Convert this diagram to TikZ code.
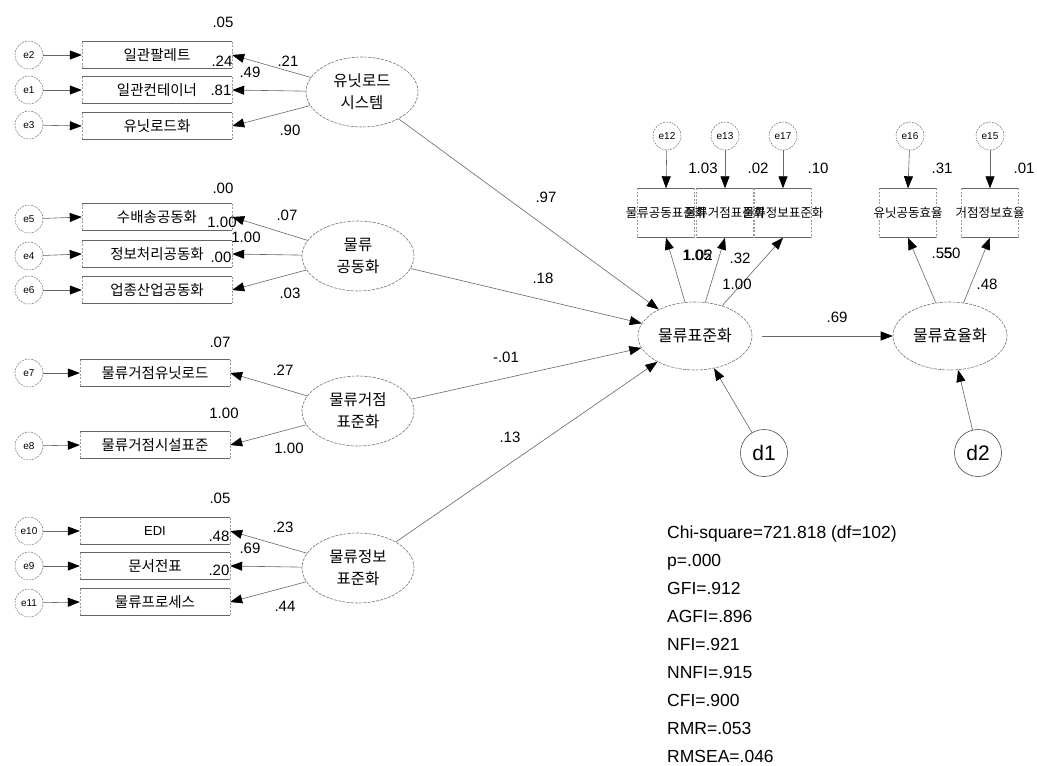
\documentclass[tikz,border=0pt]{standalone}
\usepackage{fontspec}
\setmainfont{Liberation Sans}
\newfontfamily\kr{Noto Sans CJK KR}
\usetikzlibrary{shapes.geometric,arrows.meta}
\begin{document}
\begin{tikzpicture}[x=1pt,y=-1pt,
  line/.style={draw=black!60, line width=0.6pt},
  arr/.style={line, -{Triangle[length=12pt,width=9pt,color=black]}},
  lat/.style={ellipse, draw=black!55, line width=0.6pt, dash pattern=on 3pt off 1.2pt, minimum width=112pt, minimum height=70pt, inner sep=0pt, align=center, font=\kr\fontsize{15.5}{22}\selectfont},
  err/.style={circle, draw=black!55, line width=0.5pt, dash pattern=on 2pt off 1pt, minimum size=28pt, inner sep=0pt, font=\fontsize{10}{10}\selectfont},
  dist/.style={circle, draw=black!70, line width=0.6pt, minimum size=47pt, inner sep=0pt, font=\fontsize{21}{21}\selectfont},
  boxedge/.style={draw=black!60, line width=0.7pt},
  boxside/.style={draw=black!40, line width=0.5pt, dash pattern=on 2pt off 1.5pt},
  ind/.style={rectangle, inner sep=0pt, minimum width=150pt, minimum height=26pt, font=\kr\fontsize{14.5}{15}\selectfont,
     append after command={(\tikzlastnode.north west) edge[boxedge] (\tikzlastnode.north east)
        (\tikzlastnode.south west) edge[boxedge] (\tikzlastnode.south east)
        (\tikzlastnode.north west) edge[boxside] (\tikzlastnode.south west)
        (\tikzlastnode.north east) edge[boxside] (\tikzlastnode.south east)}},
  tind/.style={ind, minimum width=57pt, minimum height=49pt, font=\kr\fontsize{12.5}{13}\selectfont},
  lbl/.style={inner sep=0pt, font=\fontsize{15}{15}\selectfont},
  fitline/.style={inner sep=0pt, anchor=base west, font=\fontsize{17.5}{18}\selectfont}
]
\fill[white] (0,0) rectangle (1037,766);
\useasboundingbox (0,0) rectangle (1037,766);

% error terms (left)
\node[err] (e2) at (29,55) {e2};
\node[err] (e1) at (29,90) {e1};
\node[err] (e3) at (29,125) {e3};
\node[err] (e5) at (29,219) {e5};
\node[err] (e4) at (29,256) {e4};
\node[err] (e6) at (29,290) {e6};
\node[err] (e7) at (29,373) {e7};
\node[err] (e8) at (29,446) {e8};
\node[err] (e10) at (29,531) {e10};
\node[err] (e9) at (29,566) {e9};
\node[err] (e11) at (29,603) {e11};

% indicators (left)
\node[ind] (i1) at (157,55) {일관팔레트};
\node[ind] (i2) at (157,90) {일관컨테이너};
\node[ind] (i3) at (157,126) {유닛로드화};
\node[ind] (i4) at (157,217) {수배송공동화};
\node[ind] (i5) at (157,254) {정보처리공동화};
\node[ind] (i6) at (157,290) {업종산업공동화};
\node[ind] (i7) at (155,373) {물류거점유닛로드};
\node[ind] (i8) at (155,445) {물류거점시설표준};
\node[ind,font=\fontsize{13}{13}\selectfont] (i9) at (155,531) {EDI};
\node[ind] (i10) at (155,566) {문서전표};
\node[ind] (i11) at (155,602) {물류프로세스};

% latent variables
\node[lat] (L1) at (362,92) {유닛로드\\시스템};
\node[lat] (L2) at (358,256) {물류\\공동화};
\node[lat] (L3) at (358,411) {물류거점\\표준화};
\node[lat] (L4) at (358,568) {물류정보\\표준화};
\node[lat, minimum width=114pt, minimum height=68pt, font=\kr\fontsize{16}{16}\selectfont] (S) at (695,336) {물류표준화};
\node[lat, minimum width=114pt, minimum height=68pt, font=\kr\fontsize{16}{16}\selectfont] (E) at (950,336) {물류효율화};
\node[dist] (d1) at (764,453) {d1};
\node[dist] (d2) at (978,453) {d2};

% top indicators and errors
\node[tind] (t1) at (666,213) {\makebox[0pt]{물류공동표준화}};
\node[tind] (t2) at (725,213) {\makebox[0pt]{물류거점표준화}};
\node[tind] (t3) at (783,213) {\makebox[0pt]{물류정보표준화}};
\node[tind] (t4) at (908,213) {\makebox[0pt]{유닛공동효율}};
\node[tind] (t5) at (990,213) {\makebox[0pt]{거점정보효율}};
\node[err] (e12) at (667,136) {e12};
\node[err] (e13) at (725,136) {e13};
\node[err] (e17) at (783,136) {e17};
\node[err] (e16) at (910,136) {e16};
\node[err] (e15) at (990,136) {e15};

% error arrows
\foreach \a/\b in {e2/i1,e1/i2,e3/i3,e5/i4,e4/i5,e6/i6,e7/i7,e8/i8,e10/i9,e9/i10,e11/i11}
  \draw[arr] (\a) -- (\b.west);
\foreach \a/\b in {e12/t1,e13/t2,e17/t3,e16/t4,e15/t5}
  \draw[arr] (\a) -- (\b.north);

% loadings
\foreach \a/\b in {L1/i1,L1/i2,L1/i3,L2/i4,L2/i5,L2/i6,L3/i7,L3/i8,L4/i9,L4/i10,L4/i11}
  \draw[arr] (\a) -- (\b.east);
\foreach \b in {t1,t2,t3} \draw[arr] (S) -- (\b.south);
\foreach \b in {t4,t5} \draw[arr] (E) -- (\b.south);

% structural paths
\foreach \a in {L1,L2,L3,L4} \draw[arr] (\a) -- (S);
\draw[arr, shorten <=10pt] (S) -- (E);
\draw[arr] (d1) -- (S);
\draw[arr] (d2) -- (E);

% labels
\node[lbl] at (223,22) {.05};
\node[lbl] at (288,61) {.21};
\node[lbl] at (222,61) {.24};
\node[lbl] at (250,72) {.49};
\node[lbl] at (221,90) {.81};
\node[lbl] at (290,130) {.90};
\node[lbl] at (223,188) {.00};
\node[lbl] at (287,215) {.07};
\node[lbl] at (222,222) {1.00};
\node[lbl] at (246,237) {1.00};
\node[lbl] at (221,257) {.00};
\node[lbl] at (290,293) {.03};
\node[lbl] at (220,342) {.07};
\node[lbl] at (283,370) {.27};
\node[lbl] at (224,413) {1.00};
\node[lbl] at (289,448) {1.00};
\node[lbl] at (220,498) {.05};
\node[lbl] at (283,527) {.23};
\node[lbl] at (219,536) {.48};
\node[lbl] at (250,548) {.69};
\node[lbl] at (219,570) {.20};
\node[lbl] at (285,606) {.44};
\node[lbl] at (546,197) {.97};
\node[lbl] at (543,278) {.18};
\node[lbl] at (506,357) {-.01};
\node[lbl] at (510,437) {.13};
\node[lbl] at (703,168) {1.03};
\node[lbl] at (758,168) {.02};
\node[lbl] at (818,168) {.10};
\node[lbl] at (942,168) {.31};
\node[lbl] at (1024,168) {.01};
\node[lbl] at (697,255) {1.05};
\node[lbl] at (698,255) {1.02};
\node[lbl] at (740,258) {.32};
\node[lbl] at (737,284) {1.00};
\node[lbl] at (942,253) {.55};
\node[lbl] at (950,253) {.50};
\node[lbl] at (987,284) {.48};
\node[lbl] at (837,317) {.69};

% fit statistics
\node[fitline] (f1) at (667,538) {Chi-square=721.818 (df=102)};
\node[fitline] (f2) at (667,566) {p=.000};
\node[fitline] (f3) at (667,594) {GFI=.912};
\node[fitline] (f4) at (667,622) {AGFI=.896};
\node[fitline] (f5) at (667,650) {NFI=.921};
\node[fitline] (f6) at (667,678) {NNFI=.915};
\node[fitline] (f7) at (667,706) {CFI=.900};
\node[fitline] (f8) at (667,734) {RMR=.053};
\node[fitline] (f9) at (667,762) {RMSEA=.046};
\end{tikzpicture}
\end{document}
